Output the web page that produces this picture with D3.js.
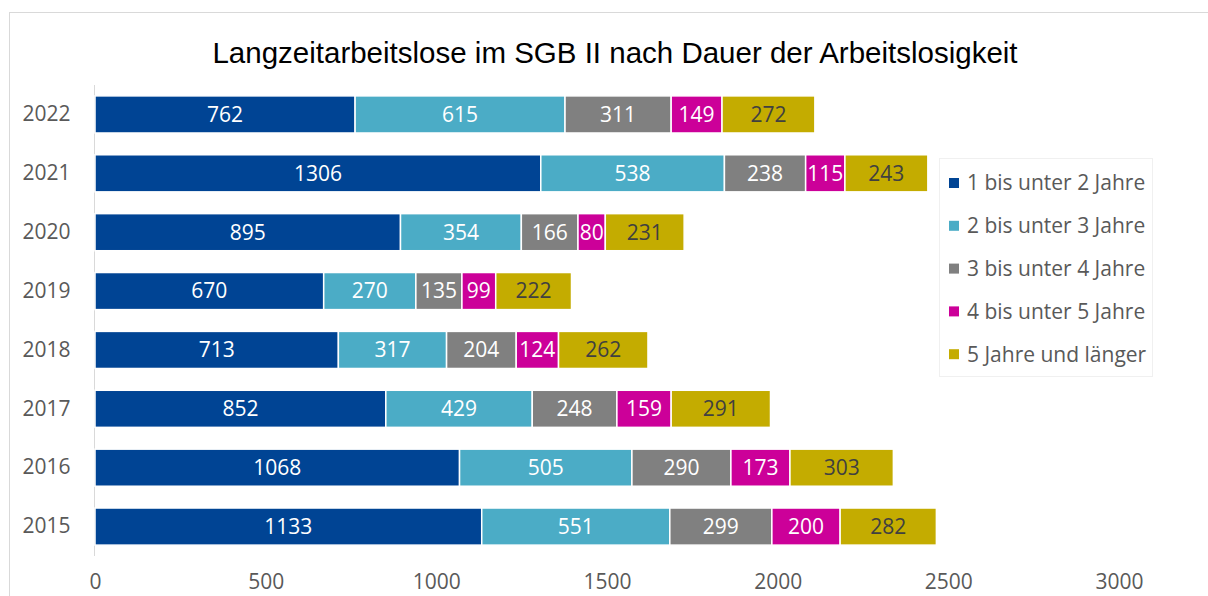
<!DOCTYPE html>
<html>
<head>
<meta charset="utf-8">
<script src="https://d3js.org/d3.v7.min.js"></script>
<style>
	body { margin: 0; background: #fff; }
	svg { display: block; }
	.title { font-family: "Liberation Sans", Arial, sans-serif; font-size: 29.5px; fill: #000; text-anchor: middle; }
	.tick text { font-family: "Open Sans", "Noto Sans", sans-serif; font-size: 21px; fill: #595959; }
	.bar-label { font-family: "Open Sans", "Noto Sans", sans-serif; font-size: 21px; text-anchor: middle; }
	.legend-label { font-family: "Open Sans", "Noto Sans", sans-serif; font-size: 21px; fill: #595959; }
</style>
</head>
<body>
<script>
	var years = ["2022", "2021", "2020", "2019", "2018", "2017", "2016", "2015"];
	var seriesNames = ["1 bis unter 2 Jahre", "2 bis unter 3 Jahre", "3 bis unter 4 Jahre", "4 bis unter 5 Jahre", "5 Jahre und länger"];
	var s1 = [762, 1306, 895, 670, 713, 852, 1068, 1133];
	var s2 = [615, 538, 354, 270, 317, 429, 505, 551];
	var s3 = [311, 238, 166, 135, 204, 248, 290, 299];
	var s4 = [149, 115, 80, 99, 124, 159, 173, 200];
	var s5 = [272, 243, 231, 222, 262, 291, 303, 282];
	var xTicks = [0, 500, 1000, 1500, 2000, 2500, 3000];
	var colors = ["#004494", "#4BACC6", "#808080", "#CC0099", "#C4AC00"];
	var labelColors = ["#fff", "#fff", "#fff", "#fff", "#404040"];

	var W = 1208, H = 596;
	var svg = d3.select("body").append("svg").attr("width", W).attr("height", H);

	// chart frame
	svg.append("rect").attr("x", 9.5).attr("y", 12.5).attr("width", 1220).attr("height", 620)
		.attr("fill", "#fff").attr("stroke", "#d9d9d9");

	svg.append("text").attr("class", "title").attr("x", 615).attr("y", 63)
		.text("Langzeitarbeitslose im SGB II nach Dauer der Arbeitslosigkeit");

	var x = d3.scaleLinear().domain([0, 3000]).range([95, 1119]);
	var y = d3.scaleBand().domain(years).range([85, 556]).paddingInner(0.37).paddingOuter(0.185);

	var rows = years.map(function(yr, i) {
		var r = {year: yr};
		[s1, s2, s3, s4, s5].forEach(function(s, k) { r["s" + k] = s[i]; });
		return r;
	});
	var stack = d3.stack().keys(["s0", "s1", "s2", "s3", "s4"])(rows);

	// x axis labels (no line), kept just inside the bottom edge
	var xAxis = svg.append("g").attr("transform", "translate(0,574.5)")
		.call(d3.axisBottom(x).tickValues(xTicks).tickFormat(d3.format("d")).tickSize(0).tickPadding(0));
	xAxis.select(".domain").remove();
	xAxis.selectAll("text").attr("dy", "0.71em");

	// y axis
	var yAxis = svg.append("g").attr("transform", "translate(94.5,0)")
		.call(d3.axisLeft(y).tickSize(0).tickPadding(24));
	yAxis.select(".domain").attr("stroke", "#d9d9d9").attr("d", "M0,85V556");

	var layers = svg.selectAll(".layer").data(stack).enter().append("g")
		.attr("class", "layer").attr("fill", function(d, i) { return colors[i]; });

	layers.selectAll("rect").data(function(d) { return d; }).enter().append("rect")
		.attr("x", function(d) { return x(d[0]); })
		.attr("y", function(d) { return y(d.data.year); })
		.attr("width", function(d) { return x(d[1]) - x(d[0]); })
		.attr("height", y.bandwidth())
		.attr("stroke", "#fff").attr("stroke-width", 1.5);

	layers.each(function(layer, i) {
		d3.select(this).selectAll("text").data(layer).enter().append("text")
			.attr("class", "bar-label")
			.attr("fill", labelColors[i])
			.attr("x", function(d) { return (x(d[0]) + x(d[1])) / 2; })
			.attr("y", function(d) { return y(d.data.year) + y.bandwidth() / 2; })
			.attr("dy", "0.35em")
			.text(function(d) { return d[1] - d[0]; });
	});

	// legend
	var lg = svg.append("g");
	lg.append("rect").attr("x", 939.5).attr("y", 158.5).attr("width", 213).attr("height", 218)
		.attr("fill", "#fff").attr("stroke", "#f0f0f0");
	seriesNames.forEach(function(name, i) {
		var cy = 183 + i * 42.8;
		lg.append("rect").attr("x", 949).attr("y", cy - 5).attr("width", 10).attr("height", 10).attr("fill", colors[i]);
		lg.append("text").attr("class", "legend-label").attr("x", 967).attr("y", cy).attr("dy", "0.35em").text(name);
	});
</script>
</body>
</html>
